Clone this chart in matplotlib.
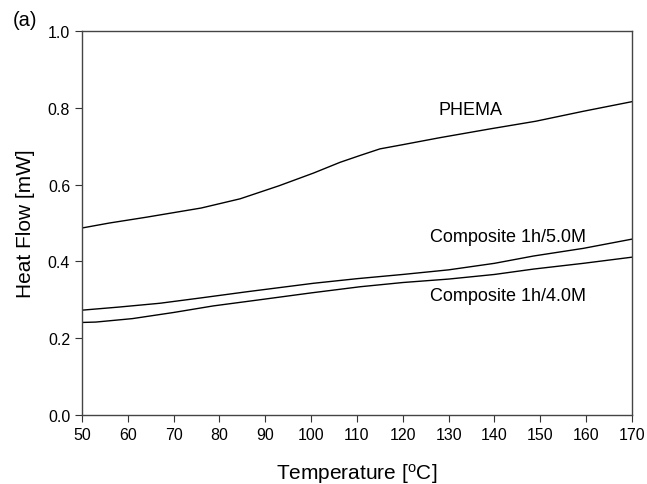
import matplotlib
matplotlib.use("Agg")
import matplotlib.pyplot as plt

plt.rcParams['font.family'] = ['Liberation Sans', 'DejaVu Sans']
plt.rcParams['mathtext.fontset'] = 'custom'
plt.rcParams['mathtext.rm'] = 'Liberation Sans'
plt.rcParams['mathtext.it'] = 'Liberation Sans'

# PHEMA
t_phema = [50, 56, 64, 70, 76, 84.5, 93, 100.5, 106.3, 110.7, 115, 120, 128, 139, 149, 159.4, 170]
v_phema = [0.487, 0.500, 0.515, 0.527, 0.539, 0.563, 0.597, 0.630, 0.658, 0.676, 0.693, 0.704, 0.722, 0.745, 0.765, 0.791, 0.816]

# Composite 1h/5.0M
t_c5 = [50, 58, 67, 76, 86, 100.5, 110, 120, 130, 140, 148.5, 159.4, 170]
v_c5 = [0.273, 0.281, 0.291, 0.305, 0.321, 0.343, 0.355, 0.366, 0.378, 0.395, 0.414, 0.434, 0.458]

# Composite 1h/4.0M
t_c4 = [50, 53, 61, 70, 78.6, 90, 100, 110.7, 120, 130, 140, 148.5, 159.4, 170]
v_c4 = [0.241, 0.242, 0.251, 0.267, 0.284, 0.302, 0.318, 0.334, 0.345, 0.354, 0.366, 0.380, 0.395, 0.411]

labels = ["PHEMA", "Composite 1h/5.0M", "Composite 1h/4.0M"]
label_pos = [(134.7, 0.796), (143, 0.465), (143, 0.31)]

xticks = [50, 60, 70, 80, 90, 100, 110, 120, 130, 140, 150, 160, 170]
yticks = [0.0, 0.2, 0.4, 0.6, 0.8, 1.0]

fig = plt.figure(figsize=(6.47, 4.85), dpi=100)
ax = fig.add_axes([82/647, 1-416/485, 550/647, 384/485])

for t, v in [(t_phema, v_phema), (t_c5, v_c5), (t_c4, v_c4)]:
    ax.plot(t, v, color='black', lw=1.0)

for lab, (x, y) in zip(labels, label_pos):
    ax.text(x, y, lab, ha='center', va='center', fontsize=13)

ax.set_xlim(50, 170)
ax.set_ylim(0, 1.0)
ax.set_xticks(xticks)
ax.set_yticks(yticks)
ax.set_yticklabels([f"{y:.1f}" for y in yticks])
ax.tick_params(direction='out', length=5, width=0.8, labelsize=11.5, colors='#333333', labelcolor='black')
for s in ax.spines.values():
    s.set_linewidth(1.0)
    s.set_color('#444444')

ax.set_xlabel("Temperature [$^{\\mathrm{o}}$C]", fontsize=15, labelpad=14)
ax.set_ylabel("Heat Flow [mW]", fontsize=15, labelpad=9)

fig.text(13/647, 1-21/485, "(a)", fontsize=14.5, va='center', ha='left')

fig.savefig("out.png", dpi=100)
